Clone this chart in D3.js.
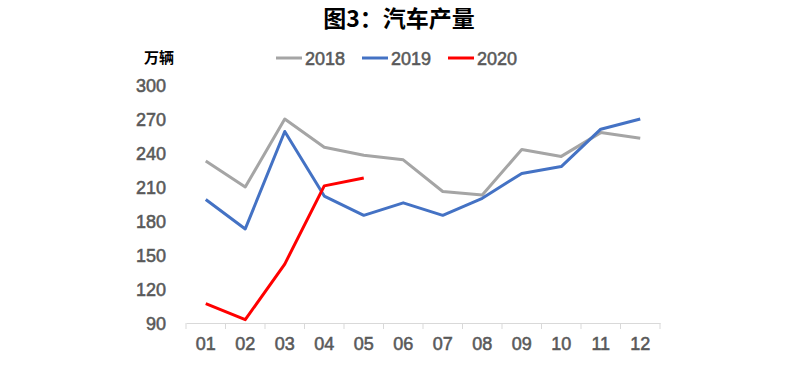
<!DOCTYPE html>
<html><head><meta charset="utf-8">
<script src="https://cdn.jsdelivr.net/npm/d3@7"></script>
<style>body{margin:0;background:#fff}</style>
</head><body>
<svg id="c" width="807" height="367"></svg>
<script>
const months = ["01","02","03","04","05","06","07","08","09","10","11","12"];
const yTicks = [90,120,150,180,210,240,270,300];
const s2018 = [233,210,270,245,238,234,206,203,243,237,258,253];
const s2019 = [199,173,259,202,185,196,185,200,222,228,261,270];
const s2020 = [107,93,142,211,218];
const seriesNames = ["2018","2019","2020"];
const seriesColors = ["#a5a5a5","#4472c4","#ff0000"];
const seriesData = [s2018,s2019,s2020];

const svg = d3.select("#c");
const x = d3.scaleBand().domain(months).range([186,660]);
const y = d3.scaleLinear().domain([90,300]).range([323,85]);
const font = "Liberation Sans, Arial, sans-serif";

function lbl(sel){
  sel.attr("font-family",font).attr("font-size",18).attr("fill","#595959")
     .attr("stroke","#595959").attr("stroke-width",0.55);
}

svg.append("text").attr("x",399).attr("y",27).attr("text-anchor","middle")
  .attr("font-family","'Noto Sans CJK SC', sans-serif").attr("font-weight","bold")
  .attr("font-size",23).attr("fill","#000").text("图3：汽车产量");

svg.append("text").attr("x",159).attr("y",63).attr("text-anchor","middle")
  .attr("font-family","'Noto Sans CJK SC', sans-serif").attr("font-weight","bold")
  .attr("font-size",15).attr("fill","#000").text("万辆");

// x axis
const xa = svg.append("g").attr("transform","translate(0,323)")
  .call(d3.axisBottom(x).tickSize(0).tickPadding(14));
xa.select(".domain").attr("stroke","#d9d9d9");
xa.selectAll("text").call(lbl);
const bounds = months.map(m=>x(m)).concat([x.range()[1]]);
svg.append("g").selectAll("line").data(bounds).join("line")
  .attr("x1",d=>d).attr("x2",d=>d).attr("y1",323).attr("y2",329).attr("stroke","#d9d9d9");

// y labels
svg.append("g").selectAll("text").data(yTicks).join("text")
  .attr("x",166).attr("y",d=>y(d)+6.5).attr("text-anchor","end")
  .call(lbl).text(d=>d);

const line = d3.line().x((d,i)=>x(months[i])+x.bandwidth()/2).y(d=>y(d));
seriesData.forEach((s,k)=>{
  svg.append("path").datum(s).attr("d",line).attr("fill","none")
    .attr("stroke",seriesColors[k]).attr("stroke-width",3).attr("stroke-linejoin","round");
});

// legend
const lx = [276,362,448];
seriesNames.forEach((n,k)=>{
  svg.append("line").attr("x1",lx[k]).attr("x2",lx[k]+26).attr("y1",58).attr("y2",58)
    .attr("stroke",seriesColors[k]).attr("stroke-width",3);
  svg.append("text").attr("x",lx[k]+29).attr("y",64.5).call(lbl).text(n);
});
</script>
</body></html>
